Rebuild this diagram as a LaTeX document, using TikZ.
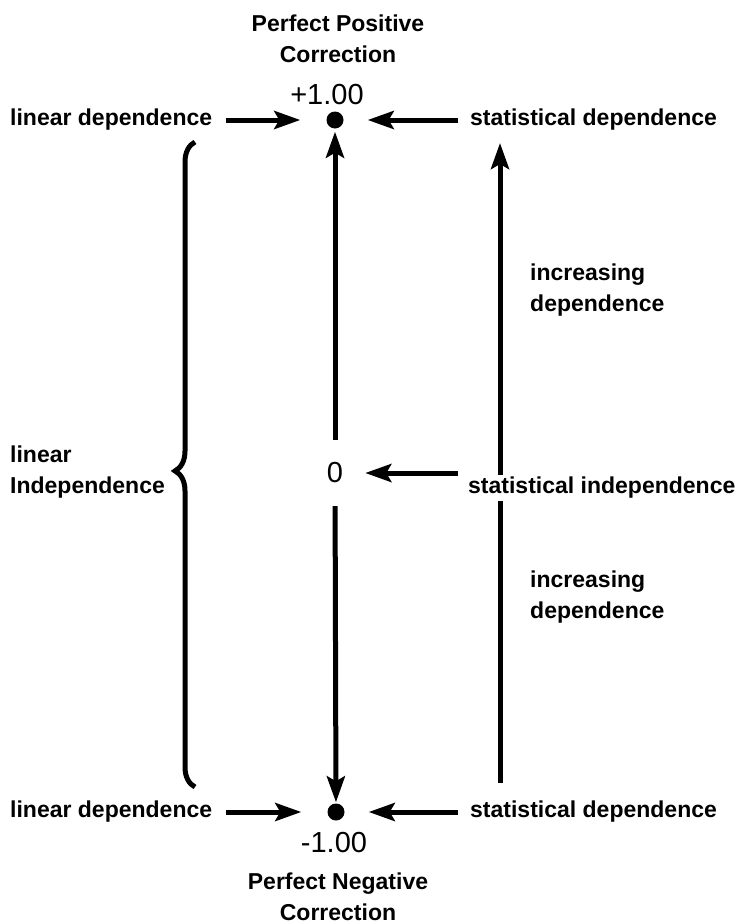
\documentclass[tikz,border=0pt]{standalone}
\usepackage{fontspec}
\setmainfont{Liberation Sans}
\usepackage{xcolor}
\usepackage{tikz}
\usetikzlibrary{positioning, arrows.meta, decorations.pathreplacing}

\tikzset{
  lbl/.style={font=\bfseries\fontsize{23}{31}\selectfont, inner sep=2pt},
  numlbl/.style={font=\fontsize{29}{34}\selectfont, inner sep=0pt},
  dotnode/.style={circle, fill=black, inner sep=0pt, minimum size=17pt},
  axis/.style={line width=5pt},
  arr/.style={axis, -{Stealth[length=26pt,width=18pt,inset=5pt]}},
}

\begin{document}
\begin{tikzpicture}[x=1pt, y=-1pt]
  \useasboundingbox (0,0) rectangle (745,924);

  % correlation axis
  \node[dotnode] (pos) at (335,120) {};
  \node[dotnode] (neg) at (336,812) {};
  \node[numlbl, minimum height=66pt] (zero) at (335,473) {0};
  \node[numlbl] (plus) at (327,95) {+1.00};
  \node[numlbl] (minus) at (334,843) {-1.00};
  \node[lbl, align=center] (ptitle) at (338,39) {Perfect Positive\\Correction};
  \node[lbl, align=center] (ntitle) at (338,897) {Perfect Negative\\Correction};

  \draw[arr, shorten >=3pt] (zero) -- (pos);
  \draw[arr, shorten >=1pt] (zero) -- (neg);

  % left side
  \node[lbl, anchor=west] (ldtop) at (8,120) {linear dependence};
  \node[lbl, anchor=west] (ldbot) at (8,812) {linear dependence};
  \node[lbl, anchor=west, align=left] (linind) at (8,472) {linear\\Independence};
  \draw[arr, shorten <=12pt, shorten >=26pt] (ldtop) -- (pos);
  \draw[arr, shorten <=12pt, shorten >=26pt] (ldbot) -- (neg);
  \draw[axis, decorate, decoration={brace, amplitude=20pt, aspect=0.49}]
    (195,787) -- (195,142);

  % right side
  \node[lbl, anchor=west] (sdtop) at (468,120) {statistical dependence};
  \node[lbl, anchor=west] (sdbot) at (468,812) {statistical dependence};
  \node[lbl, anchor=west] (sind) at (466,488) {statistical independence};
  \node[lbl, anchor=west, align=left] (incup) at (528,290) {increasing\\dependence};
  \node[lbl, anchor=west, align=left] (inclow) at (528,597) {increasing\\dependence};
  \draw[arr, shorten <=10pt, shorten >=24pt] (sdtop) -- (pos);
  \draw[arr, shorten <=10pt, shorten >=24pt] (sdbot) -- (neg);
  \draw[arr, shorten <=8pt, shorten >=22pt] (sind.west |- zero) -- (zero);

  \coordinate (rtop) at (500,143);
  \coordinate (rbot) at (500,783);
  \draw[axis] (rbot) -- (rbot |- sind.south);
  \draw[arr] (rbot |- sind.north) -- (rtop);
\end{tikzpicture}
\end{document}
